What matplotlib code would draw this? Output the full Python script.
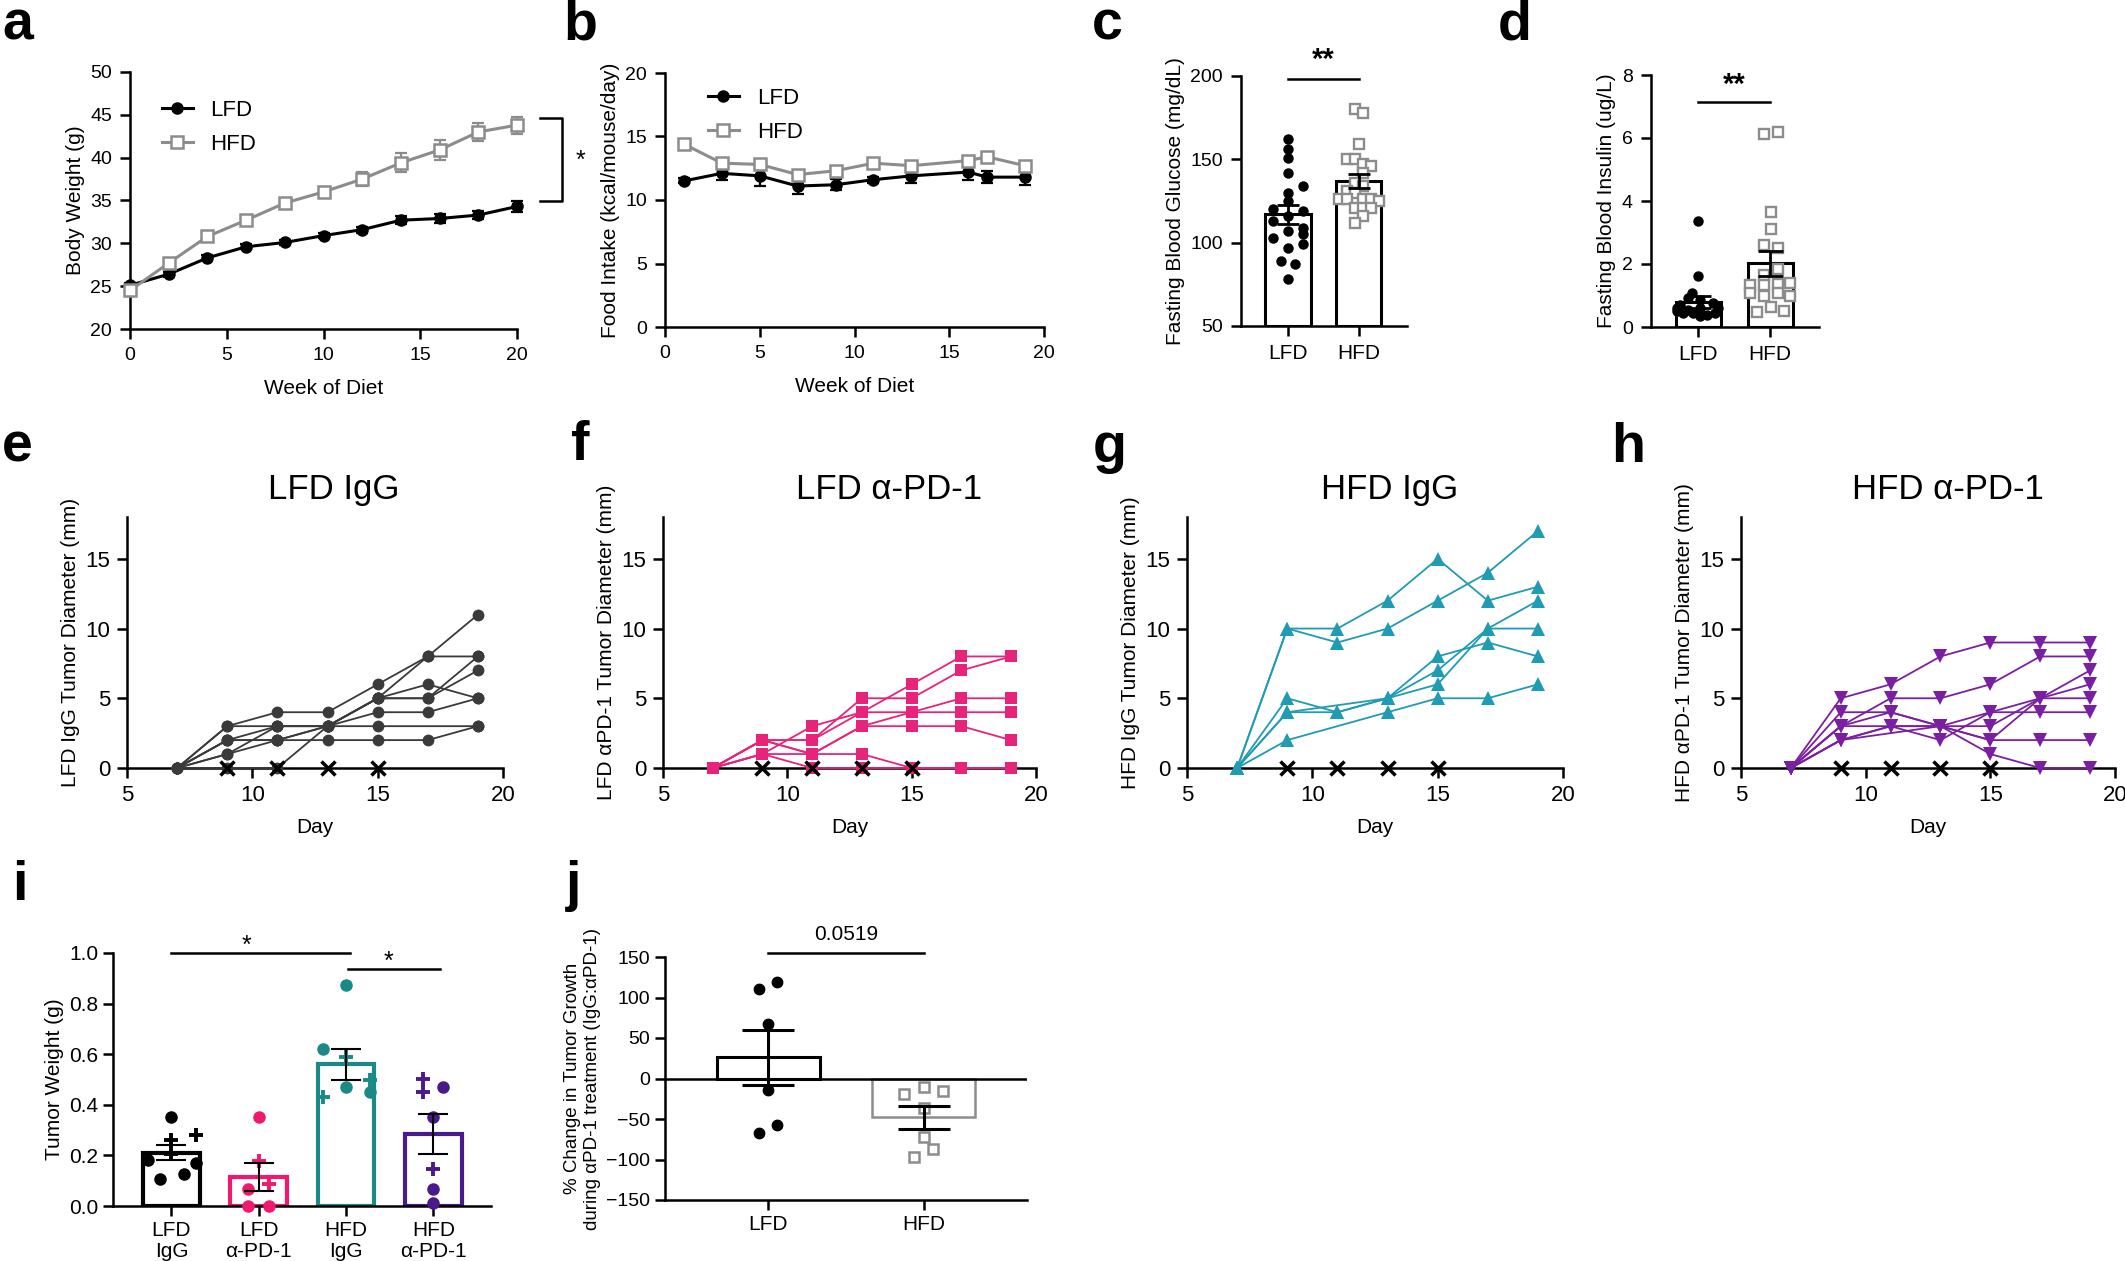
import matplotlib
matplotlib.use("Agg")
import matplotlib.pyplot as plt
import numpy as np

plt.rcParams['font.family'] = ['Liberation Sans', 'DejaVu Sans']
plt.rcParams['axes.linewidth'] = 1.8
plt.rcParams['xtick.major.width'] = 1.8
plt.rcParams['ytick.major.width'] = 1.8
plt.rcParams['xtick.major.size'] = 7
plt.rcParams['ytick.major.size'] = 7
plt.rcParams['xtick.labelsize'] = 14
plt.rcParams['ytick.labelsize'] = 14
plt.rcParams['axes.labelsize'] = 15

# ---- data: a (body weight) ----
weeks_a = [0, 2, 4, 6, 8, 10, 12, 14, 16, 18, 20]
lfd_bw = [25.1, 26.4, 28.3, 29.6, 30.1, 30.9, 31.6, 32.7, 32.9, 33.3, 34.3]
lfd_bw_sem = [0.3, 0.3, 0.3, 0.3, 0.3, 0.3, 0.35, 0.5, 0.5, 0.5, 0.6]
hfd_bw = [24.5, 27.7, 30.8, 32.7, 34.7, 36.0, 37.5, 39.4, 40.9, 43.0, 43.8]
hfd_bw_sem = [0.4, 0.4, 0.4, 0.4, 0.4, 0.6, 0.8, 1.1, 1.2, 1.1, 1.0]

# ---- b (food intake) ----
weeks_b = [1, 3, 5, 7, 9, 11, 13, 16, 17, 19]
lfd_fi = [11.5, 12.1, 11.9, 11.1, 11.2, 11.6, 11.9, 12.2, 11.8, 11.8]
lfd_fi_sem = [0.2, 0.5, 0.8, 0.6, 0.45, 0.25, 0.55, 0.65, 0.5, 0.65]
hfd_fi = [14.4, 12.9, 12.8, 12.0, 12.3, 12.9, 12.7, 13.1, 13.4, 12.7]
hfd_fi_sem = [0.2, 0.3, 0.3, 0.3, 0.3, 0.3, 0.3, 0.3, 0.3, 0.3]

# ---- c (glucose) ----
groups_cd = ['LFD', 'HFD']
glu_mean = [117, 137]
glu_sem = [5.5, 4.3]
glu_lfd = [162, 156, 151, 142, 134, 130, 125, 120, 119, 116, 113, 109, 107, 103, 105, 99, 97, 89, 87, 78]
glu_lfd_dx = [0, 0, 0, 0, 0.21, 0, 0, -0.21, 0.21, 0, -0.21, 0.21, 0, -0.21, 0.21, 0.21, 0, -0.1, 0.1, 0]
glu_hfd = [180, 178, 159, 150, 150, 147, 146, 142, 136, 134, 131, 130, 126, 126, 126, 126, 125, 121, 121, 121, 116, 112]
glu_hfd_dx = [-0.05, 0.065, 0, -0.165, -0.05, 0.065, 0.175, 0.065, -0.05, 0.065, -0.165, -0.05,
              -0.285, -0.165, 0.065, 0.175, 0.29, -0.05, 0.065, 0.175, 0.065, -0.05]

# ---- d (insulin) ----
ins_mean = [0.79, 2.02]
ins_sem = [0.2, 0.4]
ins_lfd = [3.38, 1.61, 1.08, 0.92, 0.87, 0.71, 0.76, 0.6, 0.55, 0.6, 0.6, 0.44, 0.44, 0.39, 0.44, 0.34, 0.5]
ins_lfd_dx = [0, 0, -0.09, -0.15, 0.02, -0.26, 0.21, -0.3, -0.15, 0.02, 0.28, -0.21, -0.07, 0.12, 0.23, 0.02, -0.3]
ins_hfd = [6.14, 6.19, 3.64, 3.11, 2.61, 2.51, 1.84, 1.66, 1.34, 1.34, 1.36, 1.4, 1.08, 1.08, 1.0, 0.97, 0.63, 0.47, 0.5]
ins_hfd_dx = [-0.093, 0.102, 0.01, 0.01, -0.093, 0.102, 0.102, -0.093, -0.28, -0.093, 0.102, 0.28,
              -0.28, 0.102, 0.28, -0.093, 0.01, -0.186, 0.186]

# ---- e-h (tumor diameter, mm) ----
days = [7, 9, 11, 13, 15, 17, 19]
dose_days = [9, 11, 13, 15]
nan = np.nan
lfd_igg = [[0, 3, 4, 4, 6, 8, 11],
           [0, 3, 3, 3, 3, nan, 3],
           [0, 2, 3, 3, 5, 6, 5],
           [0, 2, 2, 3, 4, 4, 5],
           [0, 1, 2, 2, 2, 2, 3],
           [0, 1, 3, 3, 5, 5, 7],
           [0, 0, 0, 3, 5, 8, 8],
           [0, 2, 2, 3, 5, 5, 8]]
lfd_pd1 = [[0, 1, 3, 4, 6, 8, 8],
           [0, 2, 2, 5, 5, 7, 8],
           [0, 2, 2, 4, 4, 5, 5],
           [0, 2, 1, 3, 4, 4, 4],
           [0, 1, 1, 3, 3, 3, 2],
           [0, 2, 1, 1, 0, 0, 0],
           [0, 1, 0, 0, 0, 0, 0]]
hfd_igg = [[0, 10, 10, 12, 15, 12, 13],
           [0, 10, 9, 10, 12, 14, 17],
           [0, 5, 4, 5, 8, 9, 8],
           [0, 4, nan, 5, 7, 10, 12],
           [0, 4, 4, 5, 6, 10, 10],
           [0, 2, nan, 4, 5, 5, 6]]
hfd_pd1 = [[0, 5, 6, 8, 9, 9, 9],
           [0, 3, 5, 5, 6, 8, 8],
           [0, 4, 4, 3, 1, 0, 0],
           [0, 3, 3, 3, 4, 5, 7],
           [0, 2, 3, 2, 4, 4, 4],
           [0, 2, 3, 3, 2, 2, 2],
           [0, 3, 4, 3, 3, 5, 6],
           [0, 2, nan, 3, 2, 5, 5]]

# ---- i (tumor weight) ----
i_groups = ['LFD\nIgG', 'LFD\nα-PD-1', 'HFD\nIgG', 'HFD\nα-PD-1']
i_colors = ['#000000', '#f0196e', '#1a8a86', '#4a1a8a']
i_means = [0.21, 0.115, 0.56, 0.285]
i_sems = [0.03, 0.055, 0.06, 0.078]
i_dots = [[0.35, 0.18, 0.168, 0.108, 0.128], [0.35, 0.069, 0.0, 0.0],
          [0.872, 0.621, 0.469, 0.449], [0.469, 0.35, 0.069, 0.013]]
i_dots_dx = [[0, -0.27, 0.285, -0.13, 0.145], [0, -0.12, -0.12, 0.115],
             [0, -0.27, 0, 0.27], [0.115, 0, 0, 0]]
i_plus = [[0.26, 0.28, 0.205], [0.178, 0.088], [0.59, 0.50, 0.429], [0.502, 0.452, 0.148]]
i_plus_dx = [[0, 0.285, 0], [0, 0.115], [0, 0.27, -0.27], [-0.115, -0.115, 0]]

# ---- j (% change) ----
j_mean = [26, -48]
j_sem = [33.5, 13.8]
j_lfd = [110, 119, 67, -14, -57, -67]
j_lfd_dx = [-0.064, 0.057, 0, 0, 0.057, -0.064]
j_hfd = [-19, -10, -16, -37, -72, -87, -97]
j_hfd_dx = [-0.126, 0, 0.126, 0, 0, 0.064, -0.062]

GRAY = '#8c8c8c'
W, H = 2125, 1261
fig = plt.figure(figsize=(W / 100, H / 100), dpi=100)


def add_ax(x0, x1, y0, y1):
    ax = fig.add_axes([x0 / W, 1 - y1 / H, (x1 - x0) / W, (y1 - y0) / H])
    ax.spines['top'].set_visible(False)
    ax.spines['right'].set_visible(False)
    return ax


def letter(x, y, s):
    fig.text(x / W, 1 - y / H, s, fontsize=40, fontweight='bold', va='baseline', ha='left')


# panel a
ax = add_ax(130, 517, 72, 329)
ax.errorbar(weeks_a, lfd_bw, yerr=lfd_bw_sem, fmt='none', ecolor='black', capsize=4,
            elinewidth=1.6, capthick=1.6, clip_on=False, zorder=3)
ax.errorbar(weeks_a, hfd_bw, yerr=hfd_bw_sem, fmt='none', ecolor=GRAY, capsize=4,
            elinewidth=1.6, capthick=1.6, clip_on=False, zorder=4)
ax.plot(weeks_a, lfd_bw, color='black', marker='o', ms=8, lw=2.2, clip_on=False, zorder=3, label='LFD')
ax.plot(weeks_a, hfd_bw, color=GRAY, marker='s', mfc='white', ms=8, mew=1.8, lw=2.2,
        clip_on=False, zorder=4, label='HFD')
ax.set_xlim(0, 20)
ax.set_ylim(20, 50)
ax.set_xticks([0, 5, 10, 15, 20])
ax.set_yticks([20, 25, 30, 35, 40, 45, 50])
ax.tick_params(pad=6)
ax.set_xlabel('Week of Diet', labelpad=11)
ax.set_ylabel('Body Weight (g)')
ax.legend(loc='upper left', bbox_to_anchor=(0.03, 0.97), frameon=False, fontsize=16,
          handlelength=1.4, labelspacing=0.6)
ax.plot([21.2, 22.3, 22.3, 21.2], [44.6, 44.6, 34.9, 34.9], color='black', lw=1.8, clip_on=False)
ax.text(23.3, 39.6, '*', fontsize=18, ha='center', va='center')
letter(2, 40, 'a')

# panel b
ax = add_ax(665, 1044, 73, 327)
ax.errorbar(weeks_b, lfd_fi, yerr=lfd_fi_sem, fmt='none', ecolor='black', capsize=4,
            elinewidth=1.6, capthick=1.6, zorder=3)
ax.errorbar(weeks_b, hfd_fi, yerr=hfd_fi_sem, fmt='none', ecolor=GRAY, capsize=4,
            elinewidth=1.6, capthick=1.6, zorder=4)
ax.plot(weeks_b, lfd_fi, color='black', marker='o', ms=8, lw=2.2, zorder=3, label='LFD')
ax.plot(weeks_b, hfd_fi, color=GRAY, marker='s', mfc='white', ms=8, mew=1.8, lw=2.2,
        zorder=4, label='HFD')
ax.set_xlim(0, 20)
ax.set_ylim(0, 20)
ax.set_xticks([0, 5, 10, 15, 20])
ax.set_yticks([0, 5, 10, 15, 20])
ax.tick_params(pad=6)
ax.set_xlabel('Week of Diet', labelpad=11)
ax.set_ylabel('Food Intake (kcal/mouse/day)')
ax.legend(loc='upper left', bbox_to_anchor=(0.06, 1.02), frameon=False, fontsize=16,
          handlelength=1.4, labelspacing=0.6)
letter(563, 40, 'b')


def bar_scatter(ax, means, sems, bottom, pts, pts_dx, width, capsize):
    x = np.arange(len(means))
    ax.bar(x, np.array(means) - bottom, bottom=bottom, width=width, facecolor='white',
           edgecolor='black', lw=2.2, zorder=1)
    ax.errorbar(x, means, yerr=sems, fmt='none', ecolor='black', capsize=capsize,
                elinewidth=2, capthick=2, zorder=4)
    ax.plot(0 + np.array(pts_dx[0]), pts[0], 'o', color='black', ms=6.5, zorder=3, clip_on=False)
    ax.plot(1 + np.array(pts_dx[1]), pts[1], 's', color=GRAY, mfc='white', ms=6.5, mew=1.7,
            zorder=3, clip_on=False)
    ax.set_xticks(x)
    ax.set_xticklabels(groups_cd, fontsize=15)
    ax.set_xlim(-0.66, 1.68)
    ax.tick_params(pad=6)


# panel c
ax = add_ax(1241, 1407, 76, 326)
bar_scatter(ax, glu_mean, glu_sem, 50, [glu_lfd, glu_hfd], [glu_lfd_dx, glu_hfd_dx], 0.64, 8)
ax.set_ylim(50, 200)
ax.set_yticks([50, 100, 150, 200])
ax.set_ylabel('Fasting Blood Glucose (mg/dL)')
ax.plot([0, 1], [198, 198], color='black', lw=1.8, clip_on=False)
ax.text(0.5, 201, '**', fontsize=21, fontweight='bold', ha='center', va='bottom')
letter(1092, 40, 'c')

# panel d
ax = add_ax(1651, 1819, 75, 327)
bar_scatter(ax, ins_mean, ins_sem, 0, [ins_lfd, ins_hfd], [ins_lfd_dx, ins_hfd_dx], 0.63, 9)
ax.set_ylim(0, 8)
ax.set_yticks([0, 2, 4, 6, 8])
ax.set_ylabel('Fasting Blood Insulin (ug/L)')
ax.plot([0, 1], [7.14, 7.14], color='black', lw=1.8, clip_on=False)
ax.text(0.5, 7.25, '**', fontsize=21, fontweight='bold', ha='center', va='bottom')
letter(1498, 40, 'd')


def tumor(ax, traces, color, marker, ms, title, tx, ylab):
    d = np.array(days)
    for tr in traces:
        arr = np.array(tr, dtype=float)
        ok = ~np.isnan(arr)
        ax.plot(d[ok], arr[ok], color=color, lw=1.3, marker=marker, ms=ms, mew=0,
                clip_on=False, zorder=3)
    ax.plot(dose_days, np.zeros(len(dose_days)), 'x', color='black', ms=10, mew=2.5,
            clip_on=False, zorder=5)
    ax.set_xlim(5, 20)
    ax.set_ylim(0, 18)
    ax.set_xticks([5, 10, 15, 20])
    ax.set_yticks([0, 5, 10, 15])
    ax.tick_params(labelsize=16, pad=5)
    ax.set_xlabel('Day', labelpad=9)
    ax.set_ylabel(ylab, fontsize=15)
    ax.text(tx, 1.07, title, transform=ax.transAxes, fontsize=25, ha='center', va='baseline')


ax = add_ax(127, 503, 517, 768)
tumor(ax, lfd_igg, '#3a3a3a', 'o', 8.5, 'LFD IgG', 0.55, 'LFD IgG Tumor Diameter (mm)')
letter(2, 462, 'e')

ax = add_ax(663, 1036, 517, 768)
tumor(ax, lfd_pd1, '#e8237a', 's', 8, 'LFD α-PD-1', 0.607, 'LFD αPD-1 Tumor Diameter (mm)')
letter(571, 460, 'f')

ax = add_ax(1187, 1563, 517, 768)
tumor(ax, hfd_igg, '#1f9bb3', '^', 9.5, 'HFD IgG', 0.54, 'HFD IgG Tumor Diameter (mm)')
letter(1093, 462, 'g')

ax = add_ax(1741, 2115, 517, 768)
tumor(ax, hfd_pd1, '#7b1fa2', 'v', 9.5, 'HFD α-PD-1', 0.553, 'HFD αPD-1 Tumor Diameter (mm)')
letter(1611, 462, 'h')

# panel i
ax = add_ax(113, 491, 953, 1206)
xi = np.arange(len(i_groups))
for k in range(len(i_groups)):
    ax.bar(xi[k], i_means[k], width=0.65, facecolor='white', edgecolor=i_colors[k], lw=3, zorder=1)
    ax.plot(xi[k] + np.array(i_dots_dx[k]), i_dots[k], 'o', color=i_colors[k], ms=8,
            zorder=3, clip_on=False)
    ax.plot(xi[k] + np.array(i_plus_dx[k]), i_plus[k], '+', color=i_colors[k], ms=10, mew=2.8,
            zorder=3, clip_on=False)
ax.errorbar(xi, i_means, yerr=i_sems, fmt='none', ecolor='black', capsize=11, elinewidth=1.5,
            capthick=1.5, zorder=4)
ax.set_xlim(-0.67, 3.66)
ax.set_ylim(0, 1.0)
ax.set_yticks([0, 0.2, 0.4, 0.6, 0.8, 1.0])
ax.set_yticklabels(['0.0', '0.2', '0.4', '0.6', '0.8', '1.0'])
ax.set_xticks(xi)
ax.set_xticklabels(i_groups, linespacing=1.15, fontsize=15)
ax.tick_params(labelsize=15)
ax.set_ylabel('Tumor Weight (g)')
ax.plot([0, 2.04], [1.0, 1.0], color='black', lw=1.8, clip_on=False)
ax.text(0.86, 1.03, '*', fontsize=18, ha='center', va='center')
ax.plot([2.02, 3.08], [0.938, 0.938], color='black', lw=1.8, clip_on=False)
ax.text(2.49, 0.965, '*', fontsize=18, ha='center', va='center')
letter(12, 900, 'i')

# panel j
ax = add_ax(665, 1027, 957, 1200)
ax.axhline(0, color='black', lw=1.8, zorder=2)
ax.bar(0, j_mean[0], width=0.66, facecolor='white', edgecolor='black', lw=2.2, zorder=1)
ax.bar(1, j_mean[1], width=0.66, facecolor='none', edgecolor=GRAY, lw=1.8, zorder=1)
ax.errorbar([0, 1], j_mean, yerr=j_sem, fmt='none', ecolor='black', capsize=19, elinewidth=2.2,
            capthick=2.2, zorder=4)
ax.plot(np.array(j_lfd_dx), j_lfd, 'o', color='black', ms=7.5, zorder=3)
ax.plot(1 + np.array(j_hfd_dx), j_hfd, 's', color=GRAY, mfc='white', ms=7.5, mew=1.8, zorder=3)
ax.set_xlim(-0.667, 1.667)
ax.set_ylim(-150, 150)
ax.set_yticks([-150, -100, -50, 0, 50, 100, 150])
ax.set_xticks([0, 1])
ax.set_xticklabels(['LFD', 'HFD'], fontsize=15)
ax.set_ylabel('% Change in Tumor Growth\nduring αPD-1 treatment (IgG:αPD-1)', fontsize=13.5)
ax.plot([0, 1], [155, 155], color='black', lw=1.8, clip_on=False)
ax.text(0.5, 178, '0.0519', fontsize=15, ha='center', va='center')
letter(566, 900, 'j')

fig.savefig('out.png', dpi=100)
